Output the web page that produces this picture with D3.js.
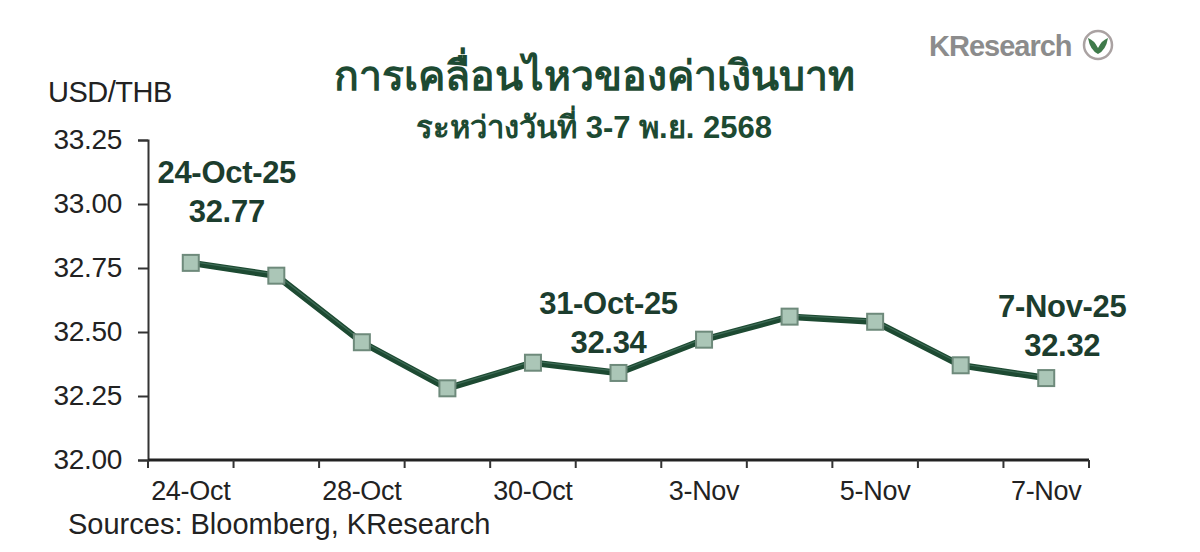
<!DOCTYPE html>
<html>
<head>
<meta charset="utf-8">
<script src="https://cdn.jsdelivr.net/npm/d3@7"></script>
<style>
  body { margin: 0; background: #fff; }
  svg { display: block; font-family: "Liberation Sans", Arial, sans-serif; }
</style>
</head>
<body>
<div id="chart"></div>
<script>
// USD/THB daily closes, 24 Oct - 7 Nov 2025
const dates = ["24-Oct", "27-Oct", "28-Oct", "29-Oct", "30-Oct", "31-Oct", "3-Nov", "4-Nov", "5-Nov", "6-Nov", "7-Nov"];
const rates = [32.77, 32.72, 32.46, 32.28, 32.38, 32.34, 32.47, 32.56, 32.54, 32.37, 32.32];
const yTicks = [32.00, 32.25, 32.50, 32.75, 33.00, 33.25];
const shownDates = ["24-Oct", "28-Oct", "30-Oct", "3-Nov", "5-Nov", "7-Nov"];
const callouts = [
  { date: "24-Oct", label: "24-Oct-25", value: 32.77, dx: 36, dy: -80 },
  { date: "31-Oct", label: "31-Oct-25", value: 32.34, dx: -10, dy: -59 },
  { date: "7-Nov", label: "7-Nov-25", value: 32.32, dx: 16, dy: -61 }
];

(function () {
    const width = 1200;
    const height = 552;
    const margin = { top: 140, right: 111, bottom: 92, left: 148 };
    const innerW = width - margin.left - margin.right;
    const innerH = height - margin.top - margin.bottom;
    const green = "#1d4a32";

    const svg = d3.select("#chart").append("svg")
        .attr("width", width)
        .attr("height", height);

    // Titles
    svg.append("text")
        .attr("x", 594).attr("y", 90)
        .attr("text-anchor", "middle")
        .style("font-size", "41px")
        .style("font-weight", "bold")
        .style("fill", green)
        .text("การเคลื่อนไหวของค่าเงินบาท");

    svg.append("text")
        .attr("x", 594).attr("y", 138)
        .attr("text-anchor", "middle")
        .style("font-size", "31px")
        .style("font-weight", "bold")
        .style("fill", green)
        .text("ระหว่างวันที่ 3-7 พ.ย. 2568");

    // KResearch logo
    svg.append("text")
        .attr("x", 929).attr("y", 56)
        .style("font-size", "29px")
        .style("font-weight", "bold")
        .style("letter-spacing", "-1px")
        .style("fill", "#8c8c8c")
        .text("KResearch");
    svg.append("circle")
        .attr("cx", 1098).attr("cy", 45).attr("r", 14)
        .attr("fill", "#fff")
        .attr("stroke", "#aaa2a2")
        .attr("stroke-width", 2.5);
    svg.append("path")
        .attr("d", "M1088,38 Q1094,40 1098,48 Q1102,40 1108,38 Q1106,50 1098,54 Q1090,50 1088,38 Z")
        .attr("fill", "#3f7a4a");

    svg.append("text")
        .attr("x", 48).attr("y", 102)
        .style("font-size", "29px")
        .style("letter-spacing", "-0.5px")
        .style("fill", "#222")
        .text("USD/THB");

    const g = svg.append("g")
        .attr("transform", `translate(${margin.left},${margin.top})`);

    const x = d3.scaleBand()
        .domain(dates)
        .range([0, innerW]);

    const y = d3.scaleLinear()
        .domain([32.0, 33.25])
        .range([innerH, 0]);

    // Y axis
    const yAxis = g.append("g")
        .call(d3.axisLeft(y).tickValues(yTicks).tickFormat(d3.format(".2f")).tickSize(10).tickPadding(16));
    yAxis.select(".domain").attr("stroke", "#333").attr("stroke-width", 2);
    yAxis.selectAll(".tick line").attr("stroke", "#333").attr("stroke-width", 2);
    yAxis.selectAll("text")
        .style("font-size", "28px")
        .style("letter-spacing", "-0.3px")
        .style("font-family", "'Liberation Sans', Arial, sans-serif")
        .style("fill", "#222");

    // X axis: ticks on band edges, labels on every other date
    const xAxis = g.append("g")
        .attr("transform", `translate(0,${innerH})`);
    xAxis.append("line")
        .attr("x1", 0).attr("x2", innerW)
        .attr("stroke", "#222").attr("stroke-width", 3);
    xAxis.selectAll(".xtick")
        .data(dates.concat(["end"]))
        .join("line")
        .attr("class", "xtick")
        .attr("x1", (d, i) => i * x.step())
        .attr("x2", (d, i) => i * x.step())
        .attr("y1", 0).attr("y2", 8)
        .attr("stroke", "#333").attr("stroke-width", 2);
    xAxis.selectAll(".xlabel")
        .data(shownDates)
        .join("text")
        .attr("class", "xlabel")
        .attr("x", d => x(d) + x.bandwidth() / 2)
        .attr("y", 40)
        .attr("text-anchor", "middle")
        .style("font-size", "27px")
        .style("letter-spacing", "-0.3px")
        .style("fill", "#222")
        .text(d => d);

    // Line
    const line = d3.line()
        .x((d, i) => x(dates[i]) + x.bandwidth() / 2)
        .y(d => y(d));

    g.append("path")
        .datum(rates)
        .attr("fill", "none")
        .attr("stroke", green)
        .attr("stroke-width", 6.5)
        .attr("stroke-linejoin", "round")
        .attr("d", line);
    g.append("path")
        .datum(rates)
        .attr("fill", "none")
        .attr("stroke", "#3e6b56")
        .attr("stroke-width", 1.2)
        .attr("transform", "translate(0,-1.5)")
        .attr("d", line);

    // Markers
    const s = 16;
    g.selectAll(".pt")
        .data(rates)
        .join("rect")
        .attr("class", "pt")
        .attr("x", (d, i) => x(dates[i]) + x.bandwidth() / 2 - s / 2)
        .attr("y", d => y(d) - s / 2)
        .attr("width", s).attr("height", s)
        .attr("fill", "#abc6b7")
        .attr("stroke", "#6e8a7b")
        .attr("stroke-width", 2);

    // Callouts
    const co = g.selectAll(".callout")
        .data(callouts)
        .join("g")
        .attr("class", "callout")
        .attr("transform", d => `translate(${x(d.date) + x.bandwidth() / 2 + d.dx},${y(d.value) + d.dy})`);
    co.append("text")
        .attr("text-anchor", "middle")
        .style("font-size", "31px")
        .style("font-weight", "bold")
        .style("letter-spacing", "-0.3px")
        .style("fill", "#1c3d2e")
        .text(d => d.label);
    co.append("text")
        .attr("y", 39)
        .attr("text-anchor", "middle")
        .style("font-size", "31px")
        .style("font-weight", "bold")
        .style("letter-spacing", "-0.3px")
        .style("fill", "#1c3d2e")
        .text(d => d.value.toFixed(2));

    svg.append("text")
        .attr("x", 68).attr("y", 534)
        .style("font-size", "29px")
        .style("fill", "#222")
        .text("Sources: Bloomberg, KResearch");
})();
</script>
</body>
</html>
